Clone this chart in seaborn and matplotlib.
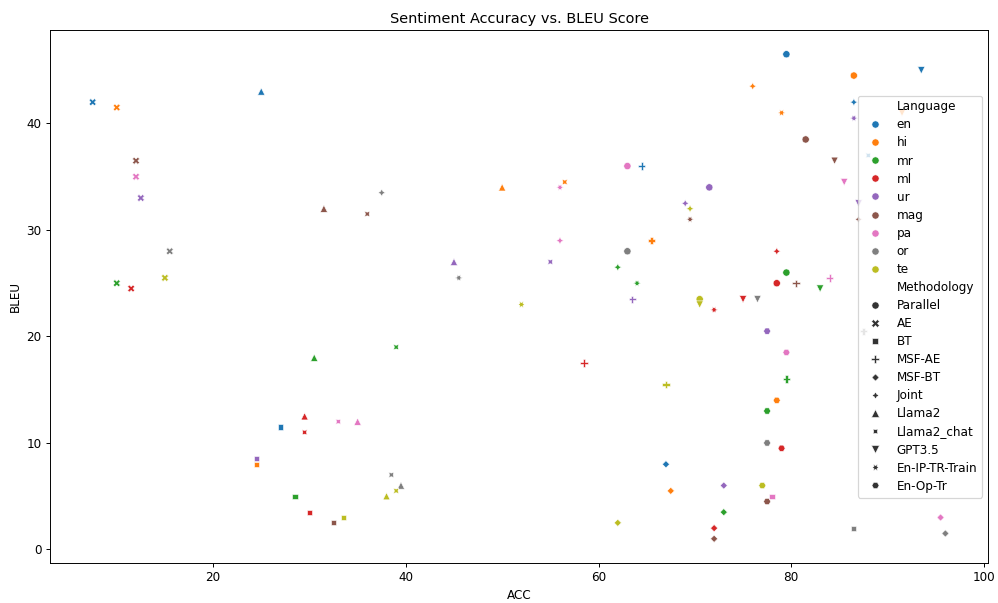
import numpy as np
import pandas as pd
import matplotlib
matplotlib.use("Agg")
import matplotlib.pyplot as plt
import seaborn as sns

languages = ["en", "hi", "mr", "ml", "ur", "mag", "pa", "or", "te"]
methods = ["Parallel", "AE", "BT", "MSF-AE", "MSF-BT", "Joint", "Llama2",
           "Llama2_chat", "GPT3.5", "En-IP-TR-Train", "En-Op-Tr"]

nan = np.nan
# ACC / BLEU per method, one value per language (order as in `languages`)
acc_parallel = [79.5, 86.5, 79.5, 78.5, 71.5, 81.5, 63.0, 63.0, 70.5]
bleu_parallel = [46.5, 44.5, 26.0, 25.0, 34.0, 38.5, 36.0, 28.0, 23.5]
acc_ae = [7.5, 10.0, 10.0, 11.5, 12.5, 12.0, 12.0, 15.5, 15.0]
bleu_ae = [42.0, 41.5, 25.0, 24.5, 33.0, 36.5, 35.0, 28.0, 25.5]
acc_bt = [27.0, 24.5, 28.5, 30.0, 24.5, 32.5, 78.0, 86.5, 33.5]
bleu_bt = [11.5, 8.0, 5.0, 3.5, 8.5, 2.5, 5.0, 2.0, 3.0]
acc_msf_ae = [64.5, 65.5, 79.5, 58.5, 63.5, 80.5, 84.0, 87.5, 67.0]
bleu_msf_ae = [36.0, 29.0, 16.0, 17.5, 23.5, 25.0, 25.5, 20.5, 15.5]
acc_msf_bt = [67.0, 67.5, 73.0, 72.0, 73.0, 72.0, 95.5, 96.0, 62.0]
bleu_msf_bt = [8.0, 5.5, 3.5, 2.0, 6.0, 1.0, 3.0, 1.5, 2.5]
acc_joint = [86.5, 76.0, 62.0, 78.5, 69.0, 87.0, 56.0, 37.5, 69.5]
bleu_joint = [42.0, 43.5, 26.5, 28.0, 32.5, 31.0, 29.0, 33.5, 32.0]
acc_llama2 = [25.0, 50.0, 30.5, 29.5, 45.0, 31.5, 35.0, 39.5, 38.0]
bleu_llama2 = [43.0, 34.0, 18.0, 12.5, 27.0, 32.0, 12.0, 6.0, 5.0]
acc_llama2_chat = [88.0, 56.5, 39.0, 29.5, 55.0, 36.0, 33.0, 38.5, 39.0]
bleu_llama2_chat = [37.0, 34.5, 19.0, 11.0, 27.0, 31.5, 12.0, 7.0, 5.5]
acc_gpt35 = [93.5, 91.5, 83.0, 75.0, 87.0, 84.5, 85.5, 76.5, 70.5]
bleu_gpt35 = [45.0, 41.0, 24.5, 23.5, 32.5, 36.5, 34.5, 23.5, 23.0]
acc_en_ip_tr = [nan, 79.0, 64.0, 72.0, 86.5, 69.5, 56.0, 45.5, 52.0]
bleu_en_ip_tr = [nan, 41.0, 25.0, 22.5, 40.5, 31.0, 34.0, 25.5, 23.0]
acc_en_op_tr = [nan, 78.5, 77.5, 79.0, 77.5, 77.5, 79.5, 77.5, 77.0]
bleu_en_op_tr = [nan, 14.0, 13.0, 9.5, 20.5, 4.5, 18.5, 10.0, 6.0]

acc_by_method = [acc_parallel, acc_ae, acc_bt, acc_msf_ae, acc_msf_bt, acc_joint,
                 acc_llama2, acc_llama2_chat, acc_gpt35, acc_en_ip_tr, acc_en_op_tr]
bleu_by_method = [bleu_parallel, bleu_ae, bleu_bt, bleu_msf_ae, bleu_msf_bt, bleu_joint,
                  bleu_llama2, bleu_llama2_chat, bleu_gpt35, bleu_en_ip_tr, bleu_en_op_tr]

rows = []
for li, lang in enumerate(languages):
    for mi, meth in enumerate(methods):
        rows.append({"Language": lang, "Methodology": meth,
                     "ACC": acc_by_method[mi][li], "BLEU": bleu_by_method[mi][li]})
df = pd.DataFrame(rows).dropna()

DPI = 86.8
fig, ax = plt.subplots(figsize=(998 / DPI, 603 / DPI), dpi=DPI)
sns.scatterplot(data=df, x="ACC", y="BLEU", hue="Language", style="Methodology",
                hue_order=languages, style_order=methods, ax=ax)
ax.set_title("Sentiment Accuracy vs. BLEU Score")
sns.move_legend(ax, "center right", labelspacing=0.42)
fig.subplots_adjust(left=0.0501, right=0.990, top=0.9502, bottom=0.0663)
fig.savefig("out.png", dpi=DPI)
